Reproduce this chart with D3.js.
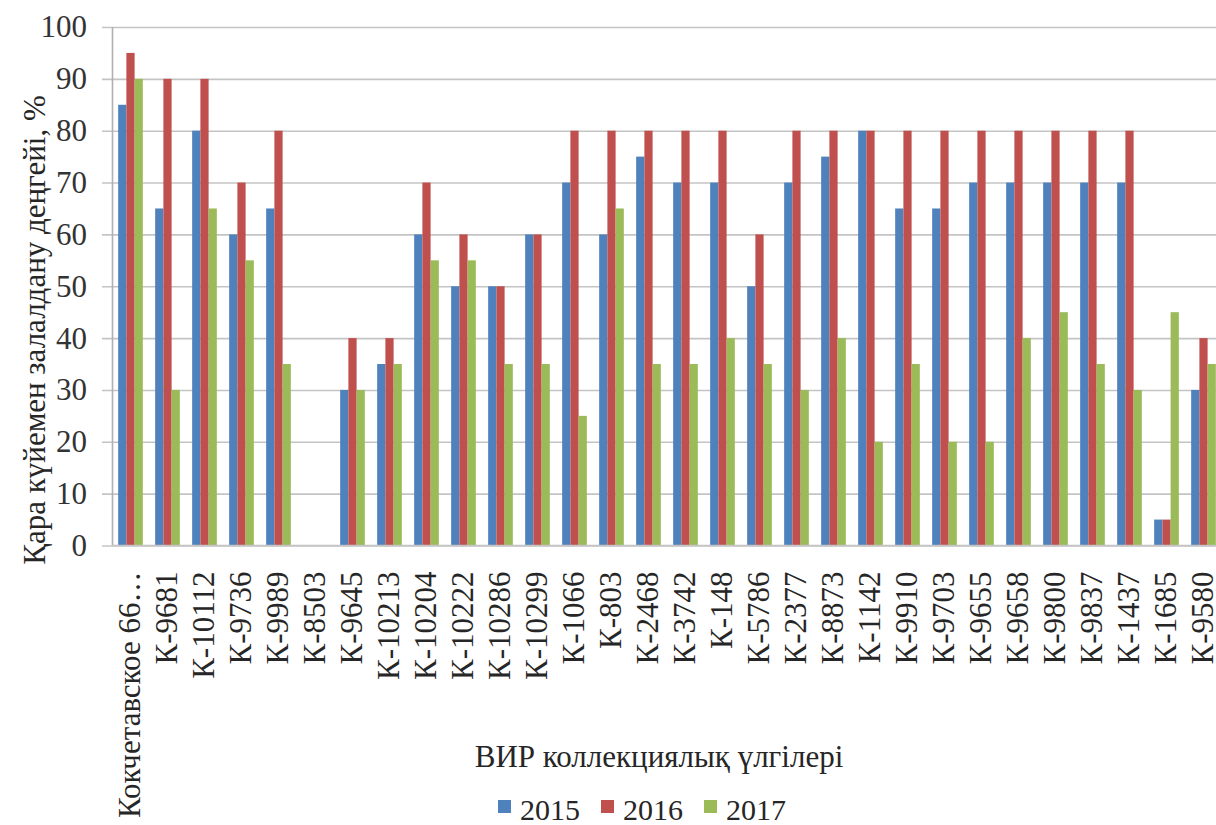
<!DOCTYPE html>
<html>
<head>
<meta charset="utf-8">
<script src="https://cdn.jsdelivr.net/npm/d3@7"></script>
<style>
  html, body { margin: 0; padding: 0; background: #fff; }
  svg { display: block; }
</style>
</head>
<body>
<svg id="chart" width="1216" height="825"></svg>
<script>
// Accessions from the VIR collection
const samples = [
  "Кокчетавское 66…", "К-9681", "К-10112", "К-9736", "К-9989", "К-8503",
  "К-9645", "К-10213", "К-10204", "К-10222", "К-10286", "К-10299",
  "К-1066", "К-803", "К-2468", "К-3742", "К-148", "К-5786", "К-2377",
  "К-8873", "К-1142", "К-9910", "К-9703", "К-9655", "К-9658", "К-9800",
  "К-9837", "К-1437", "К-1685", "К-9580"
];

const years = ["2015", "2016", "2017"];

// Smut infection level, % per year
const values2015 = [85, 65, 80, 60, 65, 0, 30, 35, 60, 50, 50, 60, 70, 60, 75, 70, 70, 50, 70, 75, 80, 65, 65, 70, 70, 70, 70, 70, 5, 30];
const values2016 = [95, 90, 90, 70, 80, 0, 40, 40, 70, 60, 50, 60, 80, 80, 80, 80, 80, 60, 80, 80, 80, 80, 80, 80, 80, 80, 80, 80, 5, 40];
const values2017 = [90, 30, 65, 55, 35, 0, 30, 35, 55, 55, 35, 35, 25, 65, 35, 35, 40, 35, 30, 40, 20, 35, 20, 20, 40, 45, 35, 30, 45, 35];

const yTicks = [0, 10, 20, 30, 40, 50, 60, 70, 80, 90, 100];
const seriesColors = ["#4F81BD", "#C0504D", "#9BBB59"];

const yTitle = "Қара күйемен залалдану деңгейі, %";
const xTitle = "ВИР коллекциялық үлгілері";

const series = [values2015, values2016, values2017];
const rows = samples.map((s, i) => ({ sample: s, vals: years.map((y, k) => ({ year: y, v: series[k][i] })) }));

const FONT = '"Liberation Serif"';

const svg = d3.select("#chart");

const plot = { left: 112, right: 1222, top: 27, bottom: 545.5 };

const x = d3.scaleBand()
  .domain(samples)
  .range([plot.left, plot.right])
  .paddingInner(0)
  .paddingOuter(0);

const xInner = d3.scaleBand()
  .domain(years)
  .range([0, x.bandwidth()])
  .paddingInner(0)
  .paddingOuter(0.75);

const y = d3.scaleLinear().domain([0, 100]).range([plot.bottom, plot.top]);

const color = d3.scaleOrdinal().domain(years).range(seriesColors);

// Horizontal gridlines with short outside ticks
const yAxis = d3.axisLeft(y)
  .tickValues(yTicks)
  .tickSize(-(1216 - plot.left))
  .tickPadding(25)
  .tickFormat(d3.format("d"));

const gy = svg.append("g")
  .attr("transform", `translate(${plot.left},0)`)
  .call(yAxis);
gy.select(".domain").remove();
gy.selectAll(".tick line")
  .attr("x1", -10)
  .attr("stroke", "#c4c4c4")
  .attr("stroke-width", 1.6);
gy.selectAll(".tick text")
  .style("font-family", FONT)
  .style("font-size", "31px")
  .attr("fill", "#333");

// Vertical value axis line
svg.append("line")
  .attr("x1", plot.left + 0.5).attr("x2", plot.left + 0.5)
  .attr("y1", plot.top).attr("y2", plot.bottom)
  .attr("stroke", "#b0b0b0")
  .attr("stroke-width", 1.6);

// Bars
const groups = svg.append("g").selectAll("g")
  .data(rows)
  .join("g")
  .attr("transform", d => `translate(${x(d.sample)},0)`);

groups.selectAll("rect")
  .data(d => d.vals)
  .join("rect")
  .attr("x", d => xInner(d.year))
  .attr("width", xInner.bandwidth())
  .attr("y", d => y(d.v))
  .attr("height", d => y(0) - y(d.v))
  .attr("fill", d => color(d.year));

// Category axis with rotated labels
const xAxis = d3.axisBottom(x).tickSize(0).tickPadding(0);
const gx = svg.append("g")
  .attr("transform", `translate(0,${plot.bottom})`)
  .call(xAxis);
gx.select(".domain")
  .attr("stroke", "#c4c4c4")
  .attr("stroke-width", 1.6)
  .attr("d", `M${plot.left},0H1216`);
gx.selectAll(".tick text")
  .style("font-family", FONT)
  .style("font-size", "31px")
  .attr("text-anchor", "end")
  .attr("dy", "0.33em")
  .attr("transform", "translate(-1,26) rotate(-90)")
  .attr("x", 0)
  .attr("y", 0)
  .attr("fill", "#262626");

// Axis titles
svg.append("text")
  .attr("transform", "translate(45,330) rotate(-90)")
  .attr("text-anchor", "middle")
  .style("font-family", FONT)
  .style("font-size", "31px")
  .attr("fill", "#262626")
  .text(yTitle);

svg.append("text")
  .attr("x", 659)
  .attr("y", 767)
  .attr("text-anchor", "middle")
  .style("font-family", FONT)
  .style("font-size", "31px")
  .attr("fill", "#262626")
  .text(xTitle);

// Legend
const legend = svg.append("g").attr("transform", "translate(498,820)");
const items = legend.selectAll("g")
  .data(years)
  .join("g")
  .attr("transform", (d, i) => `translate(${i * 103},0)`);
items.append("rect")
  .attr("x", 0).attr("y", -20)
  .attr("width", 13).attr("height", 13)
  .attr("fill", d => color(d));
items.append("text")
  .attr("x", 22)
  .attr("y", 0)
  .style("font-family", FONT)
  .style("font-size", "30px")
  .attr("fill", "#262626")
  .text(d => d);
</script>
</body>
</html>
